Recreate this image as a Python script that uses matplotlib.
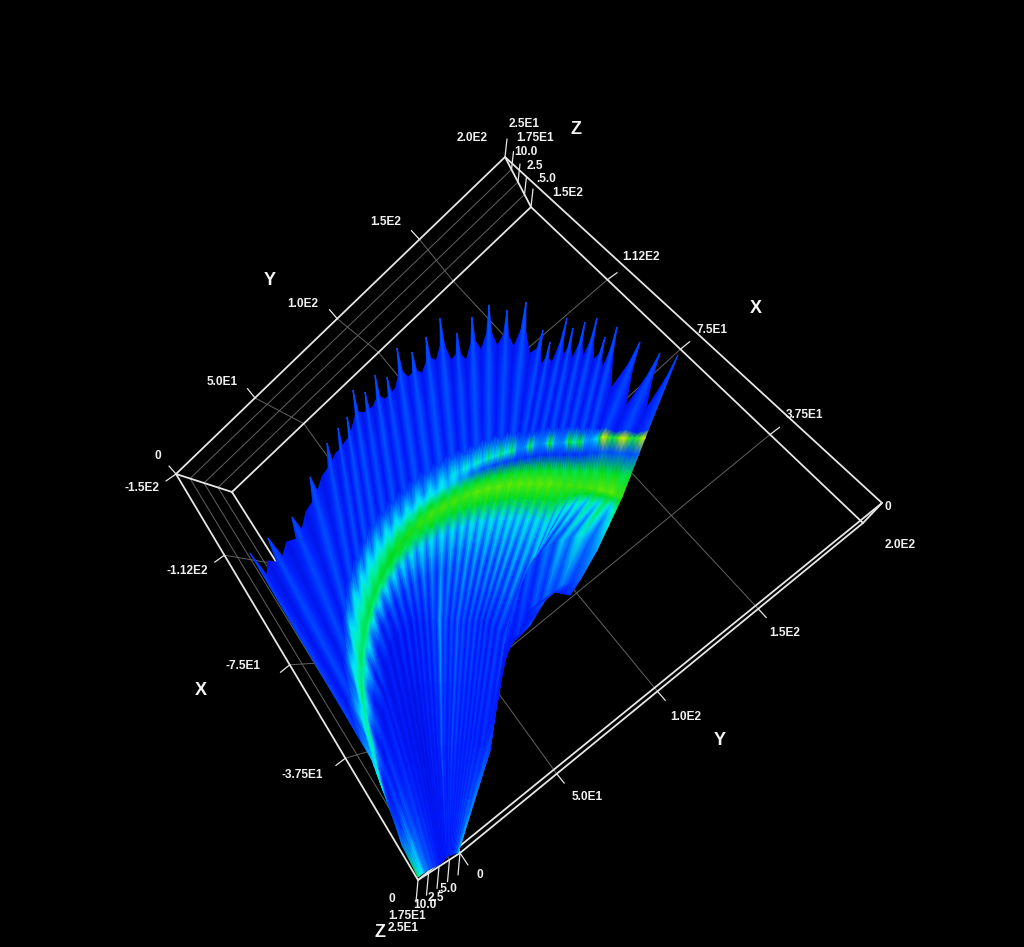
#volume render of the fan shaped spectrum in view coordinates
import numpy as np
import matplotlib
matplotlib.use('Agg')
import matplotlib.pyplot as plt
from matplotlib.colors import LinearSegmentedColormap

plt.rcParams['font.family'] = ['Liberation Sans', 'DejaVu Sans']

#ribs, left to right. every station
tip_x = [250,268,292,310,327,338,347,353,365,375,387,397,412,426,440,457,472,489,507,526,543,550,567,573,585,597,605,617,640,660,678]
tip_y = [553,538,517,477,443,428,417,390,392,375,377,348,352,337,318,333,317,305,310,302,330,342,318,328,322,318,337,327,342,353,355]
outer_x = [372,360,352,350,354,361,368,377,386,396,407,418,430,442,454,466,477,489,501,512,522,530,540,550,560,569,580,590,603,623,645]
outer_y = [760,715,665,625,595,575,558,543,530,519,508,498,489,481,474,468,463,458,454,451,448,446,444,443,443,442,442,440,437,438,438]
band_x = [381,369,362,361,364,369,375,382,390,399,409,420,431,443,455,466,477,488,499,510,520,530,540,550,560,570,580,590,601,612,622]
band_y = [785,735,695,660,632,610,592,575,560,546,534,523,515,507,501,496,492,489,487,485,484,484,484,484,485,486,487,488,490,493,497]
mid_x = [392,385,382,384,386,388,392,400,407,414,420,427,433,440,446,452,458,464,470,476,482,487,493,499,505,516,530,548,562,580,597]
mid_y = [815,770,735,700,690,655,640,632,625,620,620,620,620,620,620,620,620,620,620,620,620,620,625,630,640,600,565,545,540,535,550]
low_x = [402,400,398,403,410,412,416,420,424,428,431,435,438,442,445,449,452,456,460,464,468,472,476,482,490,505,517,530,545,562,580]
low_y = [845,810,785,765,770,755,748,745,745,745,745,745,745,745,745,745,745,745,745,745,745,745,745,745,750,645,638,625,600,585,580]
root_x = [418,423,428,432,436,438,440,441,442,443,444,445,446,447,448,449,450,451,452,453,454,455,456,457,458,498,505,517,530,555,570]
root_y = [877,873,870,868,866,865,864,863,862,861,860,859,858,857,856,855,855,855,854,854,854,853,853,853,853,700,645,638,610,592,595]

#colour level along each rib, 0 deep blue .. 1 yellow
band_v = [.55,.62,.66,.68,.70,.72,.72,.74,.76,.78,.78,.80,.82,.82,.82,.82,.84,.84,.84,.84,.84,.84,.84,.84,.82,.82,.82,.82,.84,.84,.80]
outer_v = [.46,.48,.50,.50,.50,.50,.50,.50,.50,.50,.50,.50,.50,.52,.55,.58,.60,.64,.66,.70,.36,.74,.36,.76,.36,.76,.76,.38,.97,.97,.97]
gap_v = [.50,.52,.55,.55,.55,.55,.55,.55,.55,.55,.55,.55,.55,.52,.48,.42,.36,.32,.30,.28,.27,.27,.26,.26,.26,.26,.26,.28,.32,.32,.32]
below_v = [.46,.48,.50,.50,.50,.50,.50,.50,.50,.50,.52,.52,.52,.52,.52,.52,.54,.54,.54,.54,.54,.54,.54,.54,.56,.56,.58,.60,.64,.68,.64]
streak_v = [.34,.34,.33,.32,.32,.32,.32,.33,.34,.36,.36,.38,.38,.40,.40,.40,.42,.42,.42,.42,.44,.44,.44,.44,.46,.46,.48,.50,.58,.66,.56]
mid_v = [.26,.25,.24,.22,.22,.22,.22,.24,.25,.25,.26,.28,.30,.42,.32,.30,.34,.30,.30,.30,.28,.28,.28,.28,.30,.30,.32,.36,.46,.54,.42]
low_v = [.36,.28,.26,.24,.22,.20,.20,.18,.18,.20,.22,.22,.22,.32,.24,.24,.28,.26,.24,.24,.24,.24,.24,.24,.26,.22,.24,.28,.32,.36,.32]
root_v = [.70,.50,.36,.30,.26,.24,.22,.20,.20,.20,.20,.20,.20,.22,.22,.22,.22,.22,.24,.24,.26,.28,.30,.34,.46,.18,.18,.20,.20,.24,.24]
upper_v = [.27,.28,.28,.29,.29,.29,.30,.30,.29,.30,.29,.30,.30,.30,.30,.29,.30,.30,.29,.30,.29,.29,.29,.29,.29,.29,.29,.29,.28,.28,.28]
#how far the dark notch next to a rib reaches from tip towards the dotted band
notch = [.08,.08,.10,.10,.12,.12,.14,.14,.16,.16,.18,.18,.20,.20,.24,.24,.26,.26,.26,.30,.26,.26,.30,.26,.30,.30,.26,.40,.66,.66,.66]

#box corners of the outer and inner face in the view: left, top, right, bottom
outer_face_x = [176,505,882,418]
outer_face_y = [474,157,503,880]
inner_face_x = [232,531,863,460]
inner_face_y = [492,207,523,853]

#tick places along the edges, 0 at left or top corner
x_frac_left = [0.20,0.47,0.70]
x_frac_right = [0.23,0.45,0.72]
y_frac_top = [0.24,0.49,0.74]
y_frac_bottom = [0.24,0.49,0.74]
z_frac = [0,0.25,0.5,0.75,1]

labels = ['2.0E2','2.5E1','1.75E1','10.0','2.5','.5.0','1.5E2','1.12E2','7.5E1','3.75E1','0','2.0E2',
          '1.5E2','1.0E2','5.0E1','0','0','.5.0','2.5','10.0','1.75E1','2.5E1','0','-1.5E2','-1.12E2',
          '-7.5E1','-3.75E1','5.0E1','1.0E2','1.5E2']
label_x = [472,524,535,526,535,546,568,641,712,805,888,900,785,686,587,480,392,447,436,425,407,403,158,142,187,243,302,222,303,386]
label_y = [138,124,138,152,166,179,193,257,330,415,507,545,633,717,797,875,899,889,898,905,916,928,456,488,571,666,775,382,304,222]
axis_names = ['Z','X','Y','Z','X','Y']
axis_x = [576,756,720,380,201,270]
axis_y = [129,308,740,932,690,280]

frame_col = '#e6e6e6'
grid_col = '#626262'

fan = LinearSegmentedColormap.from_list('fan', [
    (0.00, (0.0, 0.0, 0.60)), (0.20, (0.0, 0.10, 1.0)), (0.35, (0.0, 0.45, 1.0)),
    (0.50, (0.0, 0.92, 1.0)), (0.60, (0.0, 0.95, 0.65)), (0.75, (0.0, 0.85, 0.10)),
    (0.88, (0.55, 0.95, 0.0)), (1.00, (1.0, 0.95, 0.0))])

def lerp(a, b, t):
    return np.asarray(a, float) + (np.asarray(b, float) - np.asarray(a, float))*t

def corner(face_x, face_y, i):
    return np.array([face_x[i], face_y[i]], float)

def line(ax, p, q, col, lw):
    ax.plot([p[0], q[0]], [p[1], q[1]], color=col, lw=lw, solid_capstyle='round')

fig = plt.figure(figsize=(10.24, 9.47), dpi=100, facecolor='black')
ax = fig.add_axes([0, 0, 1, 1])
ax.set_xlim(0, 1024)
ax.set_ylim(947, 0)
ax.axis('off')

L0, T0, R0, B0 = [corner(outer_face_x, outer_face_y, i) for i in range(4)]
L1, T1, R1, B1 = [corner(inner_face_x, inner_face_y, i) for i in range(4)]

#grey z levels on the two back walls
for f in z_frac[1:-1]:
    line(ax, lerp(L0, L1, f), lerp(T0, T1, f), grid_col, 0.7)
    line(ax, lerp(L0, L1, f), lerp(B0, B1, f), grid_col, 0.7)

#grey x and y grid lines with their white ticks
for fl, fr in zip(x_frac_left, x_frac_right):
    a = lerp(L0, B0, fl)
    b = lerp(L1, B1, fl)
    c = lerp(T1, R1, fr)
    line(ax, a, b, grid_col, 0.7)
    line(ax, b, c, grid_col, 0.7)
    d = (a - c)/np.hypot(*(a - c))
    line(ax, a, a + 12*d, frame_col, 0.9)
    d = (c - a)/np.hypot(*(c - a))
    line(ax, c, c + 12*d, frame_col, 0.9)
for ft, fb in zip(y_frac_top, y_frac_bottom):
    a = lerp(L0, T0, ft)
    b = lerp(L1, T1, ft)
    c = lerp(B1, R1, fb)
    line(ax, a, b, grid_col, 0.7)
    line(ax, b, c, grid_col, 0.7)
    d = (a - c)/np.hypot(*(a - c))
    line(ax, a, a + 12*d, frame_col, 0.9)
    d = (c - a)/np.hypot(*(c - a))
    line(ax, c, c + 12*d, frame_col, 0.9)

#the fan itself, rib centres, shoulders and valleys share one gouraud mesh
tip = np.array([tip_x, tip_y], float)
outer = np.array([outer_x, outer_y], float)
band = np.array([band_x, band_y], float)
mid = np.array([mid_x, mid_y], float)
low = np.array([low_x, low_y], float)
root = np.array([root_x, root_y], float)
notch = np.array(notch)
band_v = np.array(band_v)
n = len(tip_x)

rows = [root, low, mid, lerp(band, mid, 0.55), lerp(band, mid, 0.25), lerp(band, mid, 0.10), band,
        lerp(band, outer, 0.35), lerp(band, outer, 0.72), outer, lerp(outer, tip, 0.10), lerp(outer, tip, 0.6), tip]
vals = [root_v, low_v, mid_v, streak_v, below_v, 0.92*band_v, band_v, 0.9*band_v, gap_v, outer_v, upper_v, upper_v, upper_v]
valley_rows = rows[:10] + [lerp(outer, tip, (1 - notch)*0.2), lerp(outer, tip, (1 - notch)*0.6), lerp(outer, tip, 1 - notch)]
valley_k = [0.85, 0.75, 0.65, 0.58, 0.7, 0.92, 0.97, 0.92, 0.85, 0.72, 0.62, 0.6, 0.55]
near_tip = lerp(outer, tip, 0.86)

X = np.zeros((4*n - 3, len(rows)))
Y = np.zeros_like(X)
V = np.zeros_like(X)
for j in range(len(rows)):
    c = rows[j]
    vr = valley_rows[j]
    v = np.array(vals[j])
    vx = 0.5*(vr[0][:-1] + vr[0][1:])
    vy = 0.5*(vr[1][:-1] + vr[1][1:])
    vv = valley_k[j]*0.5*(v[:-1] + v[1:])
    X[::4, j] = c[0]
    Y[::4, j] = c[1]
    V[::4, j] = v
    X[2::4, j] = vx
    Y[2::4, j] = vy
    V[2::4, j] = vv
    #shoulders, pulled up near the tip so the ribs end as round fingers
    if j == len(rows) - 1:
        lx, ly, rx, ry = near_tip[0][:-1], near_tip[1][:-1], near_tip[0][1:], near_tip[1][1:]
        w = 0.7
    else:
        lx, ly, rx, ry = c[0][:-1], c[1][:-1], c[0][1:], c[1][1:]
        w = 0.5
    X[1::4, j] = w*lx + (1 - w)*vx
    Y[1::4, j] = w*ly + (1 - w)*vy
    X[3::4, j] = w*rx + (1 - w)*vx
    Y[3::4, j] = w*ry + (1 - w)*vy
    V[1::4, j] = 0.5*(v[:-1] + vv)
    V[3::4, j] = 0.5*(v[1:] + vv)
ax.pcolormesh(X, Y, V, shading='gouraud', cmap=fan, vmin=0, vmax=1, zorder=3)

#white frame
for fx, fy in [(outer_face_x, outer_face_y), (inner_face_x, inner_face_y)]:
    ax.plot(fx + fx[:1], fy + fy[:1], color=frame_col, lw=1.3, zorder=2)
for p, q in [(L0, L1), (T0, T1), (R0, R1), (B0, B1)]:
    line(ax, p, q, frame_col, 1.3)

#z ticks at both ends
for f in z_frac:
    p = lerp(T0, T1, f)
    line(ax, p, p + np.array([2, -18]), frame_col, 0.9)
    p = lerp(B0, B1, f)
    line(ax, p, p + np.array([-2, 22]), frame_col, 0.9)
#corner ticks
line(ax, L0, L0 + np.array([-7, -8]), frame_col, 0.9)
line(ax, L0, L0 + np.array([-10, 7]), frame_col, 0.9)
line(ax, B1, B1 + np.array([8, 12]), frame_col, 0.9)

for s, x, y in zip(labels, label_x, label_y):
    ax.text(x, y, s, color='#f0f0f0', fontsize=8.6, fontweight='bold', ha='center', va='center', zorder=5)
for s, x, y in zip(axis_names, axis_x, axis_y):
    ax.text(x, y, s, color='#f5f5f5', fontsize=13, fontweight='bold', ha='center', va='center', zorder=5)

fig.savefig('out.png', dpi=100, facecolor='black')
